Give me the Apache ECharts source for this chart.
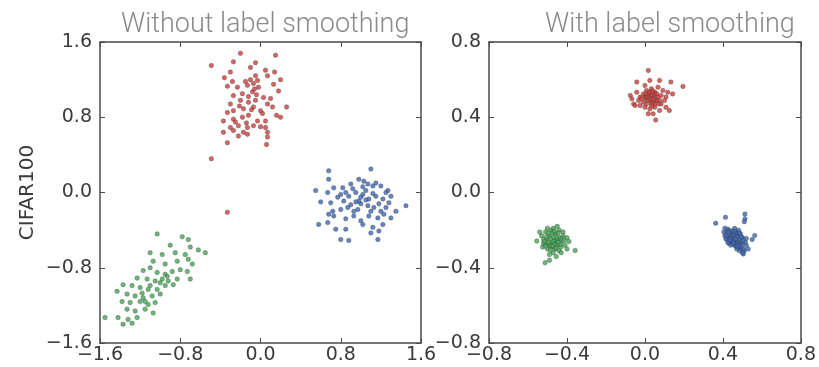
<!DOCTYPE html>
<html>
<head>
<meta charset="utf-8">
<script src="https://cdn.jsdelivr.net/npm/echarts@6/dist/echarts.min.js"></script>
<style>
  html, body { margin: 0; padding: 0; background: #fff; }
  #chart { width: 819px; height: 367px; }
</style>
</head>
<body>
<div id="chart"></div>
<script>
// Panel titles and axis settings
const panelTitles = ['Without label smoothing', 'With label smoothing'];
const yAxisName = 'CIFAR100';
const leftRange = [-1.6, 1.6];   // both axes of the left panel
const leftStep = 0.8;
const rightRange = [-0.8, 0.8];  // both axes of the right panel
const rightStep = 0.4;

// Left panel: penultimate-layer projections without label smoothing
const leftRed = [
  [-0.49,1.35],[-0.20,1.48],[0.15,1.46],[-0.27,1.39],[-0.10,1.33],[-0.30,1.28],[-0.05,1.24],[0.07,1.24],
  [0.14,1.28],[-0.33,1.13],[-0.23,1.12],[-0.13,1.14],[-0.07,1.16],[-0.03,1.19],[0.18,1.08],[-0.27,1.03],
  [-0.18,1.05],[-0.08,1.07],[0.03,1.01],[-0.30,0.94],[-0.20,0.98],[-0.12,0.96],[-0.05,0.98],[0.07,0.94],
  [0.12,0.91],[0.26,0.91],[-0.33,0.85],[-0.27,0.87],[-0.17,0.89],[-0.07,0.91],[0.00,0.87],[0.20,0.80],
  [-0.37,0.76],[-0.27,0.78],[-0.18,0.80],[-0.12,0.82],[-0.03,0.76],[0.05,0.76],[-0.30,0.69],[-0.22,0.71],
  [-0.13,0.69],[-0.07,0.71],[0.05,0.69],[-0.37,0.64],[-0.27,0.66],[-0.17,0.64],[0.07,0.64],[-0.33,0.53],
  [-0.22,0.60],[-0.13,0.62],[0.07,0.59],[0.06,0.51],[-0.10,1.20],[-0.06,1.10],[-0.12,1.02],[-0.04,1.04],
  [-0.15,1.18],[-0.02,1.12],[-0.09,0.88],[0.02,0.84],[-0.21,0.92],[-0.25,0.75],[0.10,1.00],[0.13,1.15],
  [-0.14,0.74],[0.00,0.70],[-0.36,1.22],[0.05,1.30],[-0.05,1.38],[0.16,0.82],[-0.28,1.18],[0.20,1.20],
  [-0.49,0.36],[-0.33,-0.21]
];
const leftBlue = [
  [0.55,0.02],[0.68,0.23],[0.68,0.14],[1.10,0.25],[0.67,0.00],[0.73,0.05],[0.82,0.05],[0.90,0.09],
  [0.98,0.14],[1.07,0.09],[1.12,0.07],[1.20,0.07],[1.27,0.02],[1.30,-0.04],[0.70,-0.11],[0.77,-0.05],
  [0.83,-0.09],[0.88,-0.04],[0.95,0.00],[1.02,-0.02],[1.08,-0.07],[1.15,-0.04],[1.22,-0.07],[1.28,-0.11],
  [0.72,-0.20],[0.80,-0.18],[0.87,-0.16],[0.93,-0.20],[1.00,-0.12],[1.07,-0.14],[1.13,-0.16],[1.20,-0.20],
  [1.25,-0.16],[1.35,-0.20],[1.45,-0.14],[0.85,-0.28],[0.93,-0.25],[1.00,-0.30],[1.08,-0.25],[1.17,-0.27],
  [1.23,-0.23],[0.58,-0.34],[0.67,-0.32],[0.75,-0.39],[0.85,-0.39],[1.02,-0.34],[1.12,-0.37],[1.22,-0.34],
  [1.18,-0.41],[0.80,-0.50],[0.88,-0.51],[1.10,-0.43],[1.17,-0.50],[0.98,-0.09],[1.05,0.02],[0.92,0.04],
  [0.80,-0.02],[0.73,-0.25],[0.68,-0.23],[1.30,-0.27],[1.00,-0.05],[1.05,-0.08],[1.12,-0.01],[0.95,-0.10],
  [1.18,-0.12],[0.90,-0.13],[1.02,0.06],[1.25,0.00],[0.85,0.00],[1.15,0.10],[0.97,-0.18],[1.10,-0.20],
  [1.03,0.12],[0.60,-0.10]
];
const leftGreen = [
  [-1.03,-0.44],[-0.78,-0.47],[-0.72,-0.50],[-0.90,-0.56],[-0.70,-0.58],[-0.62,-0.61],[-0.55,-0.64],[-1.10,-0.64],
  [-0.98,-0.66],[-0.85,-0.64],[-0.75,-0.66],[-1.07,-0.73],[-0.95,-0.76],[-0.83,-0.73],[-0.72,-0.71],[-0.68,-0.76],
  [-1.17,-0.83],[-1.10,-0.80],[-1.03,-0.85],[-0.95,-0.87],[-0.88,-0.84],[-0.80,-0.82],[-0.73,-0.84],[-1.23,-0.91],
  [-1.13,-0.92],[-1.05,-0.94],[-0.98,-0.92],[-0.92,-0.94],[-0.83,-0.92],[-0.70,-0.92],[-1.37,-0.98],[-1.28,-0.99],
  [-1.20,-1.01],[-1.10,-0.99],[-1.03,-1.03],[-0.95,-0.99],[-0.87,-0.98],[-1.43,-1.05],[-1.33,-1.08],[-1.25,-1.10],
  [-1.17,-1.12],[-1.08,-1.10],[-1.00,-1.08],[-1.38,-1.16],[-1.30,-1.17],[-1.20,-1.16],[-1.12,-1.19],[-1.05,-1.17],
  [-1.33,-1.24],[-1.25,-1.26],[-1.15,-1.24],[-1.07,-1.28],[-1.42,-1.33],[-1.32,-1.35],[-1.23,-1.33],[-1.37,-1.40],
  [-1.28,-1.39],[-1.55,-1.33],[-1.18,-1.07],[-1.15,-1.16],[-0.93,-0.89],[-1.00,-0.96],[-1.12,-1.03]
];

// Right panel: projections with label smoothing (tight clusters)
const rightRed = [
  [0.017,0.649],[0.195,0.564],[0.055,0.386],[-0.042,0.587],[0.133,0.587],[0.075,0.596],[0.025,0.596],[0.000,0.569],
  [-0.075,0.516],[-0.067,0.498],[-0.058,0.471],[-0.042,0.533],[-0.025,0.507],[-0.008,0.524],[0.008,0.542],[0.033,0.551],
  [0.050,0.533],[0.067,0.560],[0.092,0.542],[0.108,0.507],[0.100,0.489],[0.083,0.471],[0.058,0.489],[0.042,0.507],
  [0.025,0.489],[0.008,0.471],[-0.008,0.480],[-0.025,0.462],[-0.050,0.462],[-0.033,0.489],[0.000,0.453],[0.025,0.444],
  [0.050,0.453],[0.075,0.436],[0.125,0.436],[0.108,0.453],[0.042,0.418],[0.017,0.418],[-0.017,0.498],[0.033,0.516],
  [0.017,0.516],[0.067,0.507],[0.050,0.471],[0.033,0.471],[0.008,0.498],[0.083,0.516],[0.025,0.533],[0.000,0.507],
  [0.075,0.489],[0.117,0.533],[0.142,0.524],[0.030,0.500],[0.050,0.520],[0.040,0.480],[0.020,0.530],[0.060,0.490],
  [0.010,0.510],[0.040,0.540],[0.070,0.470],[0.045,0.495],[0.015,0.490],[0.060,0.525],[0.035,0.460],[0.005,0.525]
];
const rightBlue = [
  [0.363,-0.164],[0.413,-0.132],[0.513,-0.114],[0.513,-0.140],[0.510,-0.155],[0.563,-0.229],[0.550,-0.250],[0.505,-0.327],
  [0.530,-0.300],[0.410,-0.190],[0.420,-0.210],[0.430,-0.200],[0.440,-0.220],[0.460,-0.190],[0.470,-0.210],[0.480,-0.200],
  [0.410,-0.230],[0.420,-0.250],[0.430,-0.240],[0.440,-0.260],[0.450,-0.240],[0.460,-0.230],[0.470,-0.250],[0.480,-0.230],
  [0.490,-0.220],[0.500,-0.240],[0.430,-0.270],[0.440,-0.280],[0.450,-0.270],[0.460,-0.280],[0.470,-0.270],[0.480,-0.290],
  [0.490,-0.260],[0.500,-0.270],[0.490,-0.300],[0.510,-0.310],[0.500,-0.320],[0.520,-0.280],[0.450,-0.210],[0.440,-0.240],
  [0.455,-0.255],[0.465,-0.215],[0.475,-0.265],[0.435,-0.225],[0.425,-0.265],[0.485,-0.245],[0.490,-0.280],[0.515,-0.265],
  [0.470,-0.300],[0.520,-0.245],[0.405,-0.210],[0.415,-0.245],
  [0.425,-0.195],[0.445,-0.205],[0.455,-0.225],[0.475,-0.235],[0.465,-0.245],[0.445,-0.255],[0.435,-0.250],
  [0.455,-0.270],[0.465,-0.285],[0.480,-0.275],[0.495,-0.290],[0.505,-0.300],[0.485,-0.310],[0.475,-0.285],
  [0.420,-0.225],[0.430,-0.215],[0.460,-0.205],[0.485,-0.215],[0.495,-0.235],[0.505,-0.255]
];
const rightGreen = [
  [-0.358,-0.308],[-0.512,-0.373],[-0.555,-0.258],[-0.500,-0.190],[-0.450,-0.180],[-0.420,-0.210],[-0.400,-0.240],[-0.410,-0.280],
  [-0.440,-0.310],[-0.470,-0.320],[-0.500,-0.300],[-0.520,-0.270],[-0.530,-0.230],[-0.510,-0.210],[-0.480,-0.200],[-0.460,-0.220],
  [-0.440,-0.240],[-0.430,-0.260],[-0.450,-0.280],[-0.480,-0.270],[-0.500,-0.250],[-0.490,-0.230],[-0.470,-0.240],[-0.460,-0.260],
  [-0.480,-0.290],[-0.460,-0.300],[-0.430,-0.290],[-0.420,-0.230],[-0.440,-0.200],[-0.470,-0.190],[-0.520,-0.250],[-0.490,-0.280],
  [-0.450,-0.250],[-0.470,-0.260],[-0.485,-0.245],[-0.455,-0.235],[-0.465,-0.275],[-0.435,-0.275],[-0.475,-0.215],[-0.505,-0.275],
  [-0.525,-0.290],[-0.490,-0.330],[-0.400,-0.300],[-0.390,-0.260],[-0.540,-0.210],[-0.455,-0.340],[-0.490,-0.360],[-0.430,-0.320],
  [-0.495,-0.215],[-0.465,-0.205],[-0.445,-0.215],[-0.425,-0.245],[-0.505,-0.235],[-0.515,-0.260],[-0.495,-0.265],
  [-0.475,-0.285],[-0.455,-0.295],[-0.445,-0.265],[-0.415,-0.255],[-0.485,-0.305],[-0.510,-0.285]
];

const RED = '#cf3f3b', BLUE = '#3f68b5', GREEN = '#45a854';

const fmt = v => (Math.abs(v) < 1e-9 ? 0 : v).toFixed(1).replace('-', '\u2212');
const frameColor = '#4a4a4a';
const labelStyle = { color: '#3a3a3a', fontSize: 19, fontFamily: 'DejaVu Sans' };
const titleStyle = { color: '#8a8a8a', fontSize: 27, fontWeight: 300, fontFamily: 'Roboto' };

function mainAxis(gridIndex, range, step, position, extra) {
  return Object.assign({
    type: 'value', gridIndex, position,
    min: range[0], max: range[1], interval: step,
    axisLine: { show: true, onZero: false, lineStyle: { color: frameColor, width: 1.5 } },
    axisTick: { show: true, inside: true, length: 5, lineStyle: { color: frameColor, width: 1 } },
    splitLine: { show: false }
  }, extra || {});
}
function mirrorAxis(gridIndex, range, step, position) {
  return {
    type: 'value', gridIndex, position,
    min: range[0], max: range[1], interval: step,
    axisLine: { show: true, onZero: false, lineStyle: { color: frameColor, width: 1.5 } },
    axisTick: { show: true, inside: true, length: 5, lineStyle: { color: frameColor, width: 1 } },
    axisLabel: { show: false },
    splitLine: { show: false }
  };
}

function dots(data, color, xi, yi) {
  return {
    type: 'scatter', data, xAxisIndex: xi, yAxisIndex: yi,
    symbol: 'circle', symbolSize: 4.5,
    itemStyle: { color, borderColor: 'rgba(55,55,55,0.6)', borderWidth: 0.7 },
    silent: true, animation: false
  };
}

const xLabel = Object.assign({ formatter: fmt, margin: 3 }, labelStyle);
const yLabel = Object.assign({ formatter: fmt, margin: 8 }, labelStyle);

const chart = echarts.init(document.getElementById('chart'), null, { renderer: 'canvas' });
chart.setOption({
  backgroundColor: '#ffffff',
  animation: false,
  title: [
    { text: panelTitles[0], left: 116, top: 7, textStyle: titleStyle },
    { text: panelTitles[1], left: 540, top: 7, textStyle: titleStyle }
  ],
  grid: [
    { left: 100, top: 42, width: 321, height: 301 },
    { left: 489, top: 42, width: 318, height: 301 }
  ],
  xAxis: [
    mainAxis(0, leftRange, leftStep, 'bottom', { axisLabel: xLabel }),
    mirrorAxis(0, leftRange, leftStep, 'top'),
    mainAxis(1, rightRange, rightStep, 'bottom', { axisLabel: xLabel }),
    mirrorAxis(1, rightRange, rightStep, 'top')
  ],
  yAxis: [
    mainAxis(0, leftRange, leftStep, 'left', {
      name: yAxisName, nameLocation: 'middle', nameGap: 62, nameRotate: 90,
      nameTextStyle: { color: '#3a3a3a', fontSize: 20, fontFamily: 'DejaVu Sans' },
      axisLabel: yLabel
    }),
    mirrorAxis(0, leftRange, leftStep, 'right'),
    mainAxis(1, rightRange, rightStep, 'left', { axisLabel: yLabel }),
    mirrorAxis(1, rightRange, rightStep, 'right')
  ],
  series: [
    dots(leftRed, RED, 0, 0),
    dots(leftBlue, BLUE, 0, 0),
    dots(leftGreen, GREEN, 0, 0),
    dots(rightRed, RED, 2, 2),
    dots(rightBlue, BLUE, 2, 2),
    dots(rightGreen, GREEN, 2, 2)
  ]
});
</script>
</body>
</html>
